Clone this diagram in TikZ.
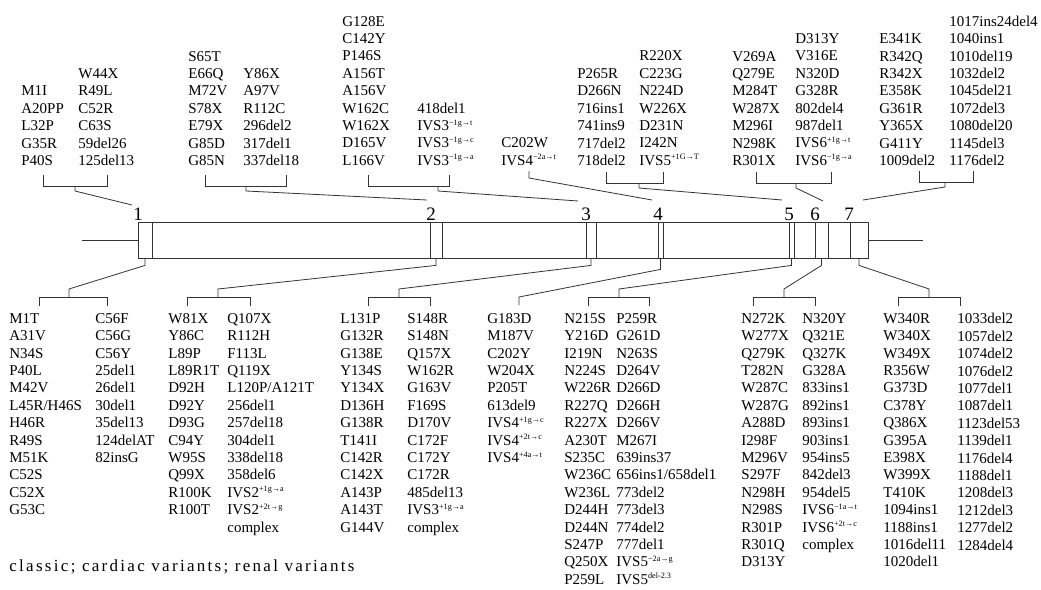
\documentclass[tikz,border=0pt]{standalone}
\usepackage{fontspec}
\setmainfont{Liberation Serif}
\newfontfamily\capfont[LetterSpace=13.5]{Liberation Serif}
\newcommand\spx[1]{\raisebox{.8ex}{\fontsize{8.2}{8}\selectfont #1}}
\begin{document}
\begin{tikzpicture}[x=1pt,y=1pt,line width=.8pt,draw=black!80,
  every node/.style={inner sep=0pt,text=black},
  topcol/.style={anchor=south west,align=left,font=\fontsize{15}{17.4}\selectfont},
  botcol/.style={anchor=north west,align=left,font=\fontsize{15}{17.4}\selectfont},
  exon/.style={draw,minimum height=36},
  exlab/.style={font=\fontsize{19}{19}\selectfont}]
\useasboundingbox (0,0) rectangle (1041,-589);
% gene bar and exons
\node[exon,minimum width=730] (bar) at (503,-240) {};
\foreach \n/\c/\w in {1/145/14,2/436/12,3/591/10,4/660.5/5,5/791.5/5,6/821.5/13,7/859/18}
  \node[exon,minimum width=\w] (x\n) at (\c,-240) {};
\coordinate (lend) at (82,-240);
\coordinate (rend) at (923,-240);
\draw (lend) -- (bar.west);
\draw (bar.east) -- (rend);
\foreach \n/\c in {1/138,2/431,3/586,4/658,5/789,6/815,7/849}
  \node[exlab] (e\n) at (\c,-214) {\n};
% top mutation lists
\node[topcol] (t1a) at (21,-166) {M1I\\A20PP\\L32P\\G35R\\P40S};
\node[topcol] (t1b) at (78,-166) {W44X\\R49L\\C52R\\C63S\\59del26\\125del13};
\node[topcol] (t2a) at (188,-166) {S65T\\E66Q\\M72V\\S78X\\E79X\\G85D\\G85N};
\node[topcol] (t2b) at (243,-166) {Y86X\\A97V\\R112C\\296del2\\317del1\\337del18};
\node[topcol] (t3a) at (342,-166) {G128E\\C142Y\\P146S\\A156T\\A156V\\W162C\\W162X\\D165V\\L166V};
\node[topcol] (t3b) at (417,-166) {418del1\\IVS3\spx{−1g→t}\\IVS3\spx{−1g→c}\\IVS3\spx{−1g→a}};
\node[topcol] (t4) at (501,-166) {C202W\\IVS4\spx{−2a→t}};
\node[topcol] (t5a) at (577,-166) {P265R\\D266N\\716ins1\\741ins9\\717del2\\718del2};
\node[topcol] (t5b) at (639,-166) {R220X\\C223G\\N224D\\W226X\\D231N\\I242N\\IVS5\spx{+1G→T}};
\node[topcol] (t6a) at (732,-166) {V269A\\Q279E\\M284T\\W287X\\M296I\\N298K\\R301X};
\node[topcol] (t6b) at (795,-166) {D313Y\\V316E\\N320D\\G328R\\802del4\\987del1\\IVS6\spx{+1g→t}\\IVS6\spx{−1g→a}};
\node[topcol] (t7a) at (879,-166) {E341K\\R342Q\\R342X\\E358K\\G361R\\Y365X\\G411Y\\1009del2};
\node[topcol] (t7b) at (949,-166) {1017ins24del4\\1040ins1\\1010del19\\1032del2\\1045del21\\1072del3\\1080del20\\1145del3\\1176del2};
% top brackets
\foreach \n/\x/\y in {1/132/205,2/427/200,3/578/201,4/652/200,5/782/200,6/823/201,7/863/200}
  \coordinate (te\n) at (\x,-\y);
\foreach \n/\l/\r/\s/\h in {1/43/107/75/186,2/205/286/246/186,3/368/449/438/186,5/606/663/639/183,6/756/831/796/183,7/919/973/945/182}{
  \draw (\l,-\h+11) |- (\r,-\h) -- (\r,-\h+11);
  \draw (\s,-\h) -- (\s,-\h-5) -- (te\n);
}
\draw (529,-171) -- (529,-178) -- (te4);
% bottom mutation lists
\node[botcol] (b1a) at (9,-313) {M1T\\A31V\\N34S\\P40L\\M42V\\L45R/H46S\\H46R\\R49S\\M51K\\C52S\\C52X\\G53C};
\node[botcol] (b1b) at (95,-313) {C56F\\C56G\\C56Y\\25del1\\26del1\\30del1\\35del13\\124delAT\\82insG};
\node[botcol] (b2a) at (168,-313) {W81X\\Y86C\\L89P\\L89R1T\\D92H\\D92Y\\D93G\\C94Y\\W95S\\Q99X\\R100K\\R100T};
\node[botcol] (b2b) at (227,-313) {Q107X\\R112H\\F113L\\Q119X\\L120P/A121T\\256del1\\257del18\\304del1\\338del18\\358del6\\IVS2\spx{+1g→a}\\IVS2\spx{+2t→g}\\complex};
\node[botcol] (b3a) at (340,-313) {L131P\\G132R\\G138E\\Y134S\\Y134X\\D136H\\G138R\\T141I\\C142R\\C142X\\A143P\\A143T\\G144V};
\node[botcol] (b3b) at (407,-313) {S148R\\S148N\\Q157X\\W162R\\G163V\\F169S\\D170V\\C172F\\C172Y\\C172R\\485del13\\IVS3\spx{+1g→a}\\complex};
\node[botcol] (b4) at (487,-313) {G183D\\M187V\\C202Y\\W204X\\P205T\\613del9\\IVS4\spx{+1g→c}\\IVS4\spx{+2t→c}\\IVS4\spx{+4a→t}};
\node[botcol] (b5a) at (564,-313) {N215S\\Y216D\\I219N\\N224S\\W226R\\R227Q\\R227X\\A230T\\S235C\\W236C\\W236L\\D244H\\D244N\\S247P\\Q250X\\P259L};
\node[botcol] (b5b) at (616,-313) {P259R\\G261D\\N263S\\D264V\\D266D\\D266H\\D266V\\M267I\\639ins37\\656ins1/658del1\\773del2\\773del3\\774del2\\777del1\\IVS5\spx{−2a→g}\\IVS5\spx{del-2.3}};
\node[botcol] (b6a) at (741,-313) {N272K\\W277X\\Q279K\\T282N\\W287C\\W287G\\A288D\\I298F\\M296V\\S297F\\N298H\\N298S\\R301P\\R301Q\\D313Y};
\node[botcol] (b6b) at (802,-313) {N320Y\\Q321E\\Q327K\\G328A\\833ins1\\892ins1\\893ins1\\903ins1\\954ins5\\842del3\\954del5\\IVS6\spx{−1a→t}\\IVS6\spx{+2t→c}\\complex};
\node[botcol] (b7a) at (883,-313) {W340R\\W340X\\W349X\\R356W\\G373D\\C378Y\\Q386X\\G395A\\E398X\\W399X\\T410K\\1094ins1\\1188ins1\\1016del11\\1020del1};
\node[botcol] (b7b) at (957,-313) {1033del2\\1057del2\\1074del2\\1076del2\\1077del1\\1087del1\\1123del53\\1139del1\\1176del4\\1188del1\\1208del3\\1212del3\\1277del2\\1284del4};
% bottom brackets
\foreach \n/\l/\r/\s in {1/39/107/69,2/187/250/218,3/368/430/399,5/588/649/619,6/753/815/784,7/898/960/929}{
  \draw (x\n.south) -- ++(0,-7) -- (\s,-289) -- (\s,-297);
  \draw (\l,-306) |- (\r,-297) -- (\r,-306);
}
\coordinate (bh4) at (519,-305);
\draw (x4.south) -- ++(0,-11) -- (519,-297) -- (bh4);
% legend
\node[anchor=west,font=\capfont\fontsize{17}{17}\selectfont] (cap) at (9,-567) {classic; cardiac variants; renal variants};
\end{tikzpicture}
\end{document}
